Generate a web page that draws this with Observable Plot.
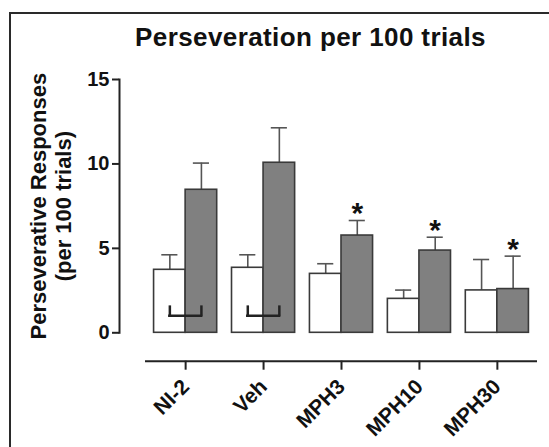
<!DOCTYPE html>
<html><head><meta charset="utf-8">
<script src="https://cdn.jsdelivr.net/npm/d3@7"></script>
<script src="https://cdn.jsdelivr.net/npm/@observablehq/plot@0.6"></script>
<style>
html,body{margin:0;padding:0;background:#fff;}
#wrap{position:relative;width:549px;height:447px;overflow:hidden;font-family:"Liberation Sans",Arial,sans-serif;}
#frame{position:absolute;left:9px;top:12px;width:600px;height:500px;border-left:2px solid #2a2a2a;border-top:2px solid #2a2a2a;}
#title{position:relative;height:55px;box-sizing:border-box;padding-top:24px;padding-left:72px;text-align:center;font-weight:bold;font-size:26px;line-height:26px;letter-spacing:0.4px;color:#111;white-space:nowrap;}
#chart{position:relative;}
</style></head><body>
<div id="wrap"><div id="frame"></div><div id="title">Perseveration per 100 trials</div><div id="chart"></div></div>
<script>
const categories = ["NI-2", "Veh", "MPH3", "MPH10", "MPH30"];
const whiteMean = [3.73, 3.85, 3.49, 2.01, 2.51];
const whiteErr  = [0.89, 0.77, 0.60, 0.52, 1.83];
const grayMean  = [8.47, 10.07, 5.76, 4.87, 2.59];
const grayErr   = [1.58, 2.07, 0.89, 0.79, 1.95];
const stars     = ["", "", "*", "*", "*"];
const bracketCategories = ["NI-2", "Veh"];
const bracketLow  = [1.01, 1.01];
const bracketHigh = [1.52, 1.52];
const yTicks = [0, 5, 10, 15];
const titleText = "Perseveration per 100 trials";
const yLabelText = "Perseverative Responses\n(per 100 trials)";

const rows = categories.map((c, i) => ({
  cat: c,
  white: whiteMean[i], whiteTop: whiteMean[i] + whiteErr[i],
  gray: grayMean[i], grayTop: grayMean[i] + grayErr[i],
  star: stars[i]
}));
const brackets = bracketCategories.map((c, i) => ({cat: c, low: bracketLow[i], high: bracketHigh[i]}));

const half = 15.78;
const edge = "#3a3a3a";
const errc = "#555";

const chart = Plot.plot({
  width: 549, height: 392,
  marginTop: 24, marginBottom: 114.7, marginLeft: 119, marginRight: 12,
  style: {fontFamily: "'Liberation Sans', Arial, sans-serif", background: "transparent", overflow: "visible", color: "#111"},
  x: {type: "band", domain: categories, range: [145, 537], paddingInner: 0.19, paddingOuter: 0.11, round: false, label: null},
  y: {domain: [0, 15], label: null},
  marks: [
    Plot.ruleX(rows, {x: "cat", y1: "white", y2: "whiteTop", dx: -half, stroke: errc, strokeWidth: 1.6}),
    Plot.tickY(rows, {x: "cat", y: "whiteTop", dx: -half, insetLeft: 23.5, insetRight: 23.5, stroke: errc, strokeWidth: 1.6}),
    Plot.ruleX(rows, {x: "cat", y1: "gray", y2: "grayTop", dx: half, stroke: errc, strokeWidth: 1.6}),
    Plot.tickY(rows, {x: "cat", y: "grayTop", dx: half, insetLeft: 23.5, insetRight: 23.5, stroke: errc, strokeWidth: 1.6}),
    Plot.barY(rows, {x: "cat", y: "white", fill: "#fff", stroke: edge, strokeWidth: 1.6, insetRight: 2 * half}),
    Plot.barY(rows, {x: "cat", y: "gray", fill: "#808080", stroke: edge, strokeWidth: 1.6, insetLeft: 2 * half}),
    Plot.text(rows.filter(d => d.star), {x: "cat", y: "grayTop", text: "star", dx: half, dy: -7, fontSize: 30, fontWeight: "bold", fill: "#111"}),
    Plot.tickY(brackets, {x: "cat", y: "low", insetLeft: half, insetRight: half, stroke: "#222", strokeWidth: 2.5, strokeLinecap: "square"}),
    Plot.ruleX(brackets, {x: "cat", y1: "low", y2: "high", dx: -half, stroke: "#222", strokeWidth: 2.5, strokeLinecap: "square"}),
    Plot.ruleX(brackets, {x: "cat", y1: "low", y2: "high", dx: half, stroke: "#222", strokeWidth: 2.5, strokeLinecap: "square"}),
    Plot.axisY({ticks: yTicks, tickSize: 7, tickPadding: 3, fontSize: 20, fontWeight: "bold", stroke: "#222", strokeWidth: 2, label: null, tickFormat: d => String(d)}),
    Plot.frame({anchor: "left", stroke: "#222", strokeWidth: 2}),
    Plot.ruleY([0], {dy: 28.4, insetLeft: 26, stroke: "#222", strokeWidth: 2}),
    Plot.axisX({dy: 28.4, tickSize: 9, tickPadding: 13, tickRotate: -45, fontSize: 21, fontWeight: "bold", stroke: "#222", strokeWidth: 2, label: null}),
    Plot.text([yLabelText], {frameAnchor: "left", textAnchor: "middle", text: d => d, rotate: -90, dx: -69.5, fontSize: 22, fontWeight: "bold", lineHeight: 1.14, fill: "#111"})
  ]
});
document.getElementById("chart").appendChild(chart);
document.getElementById("title").textContent = titleText;
</script>
</body></html>
